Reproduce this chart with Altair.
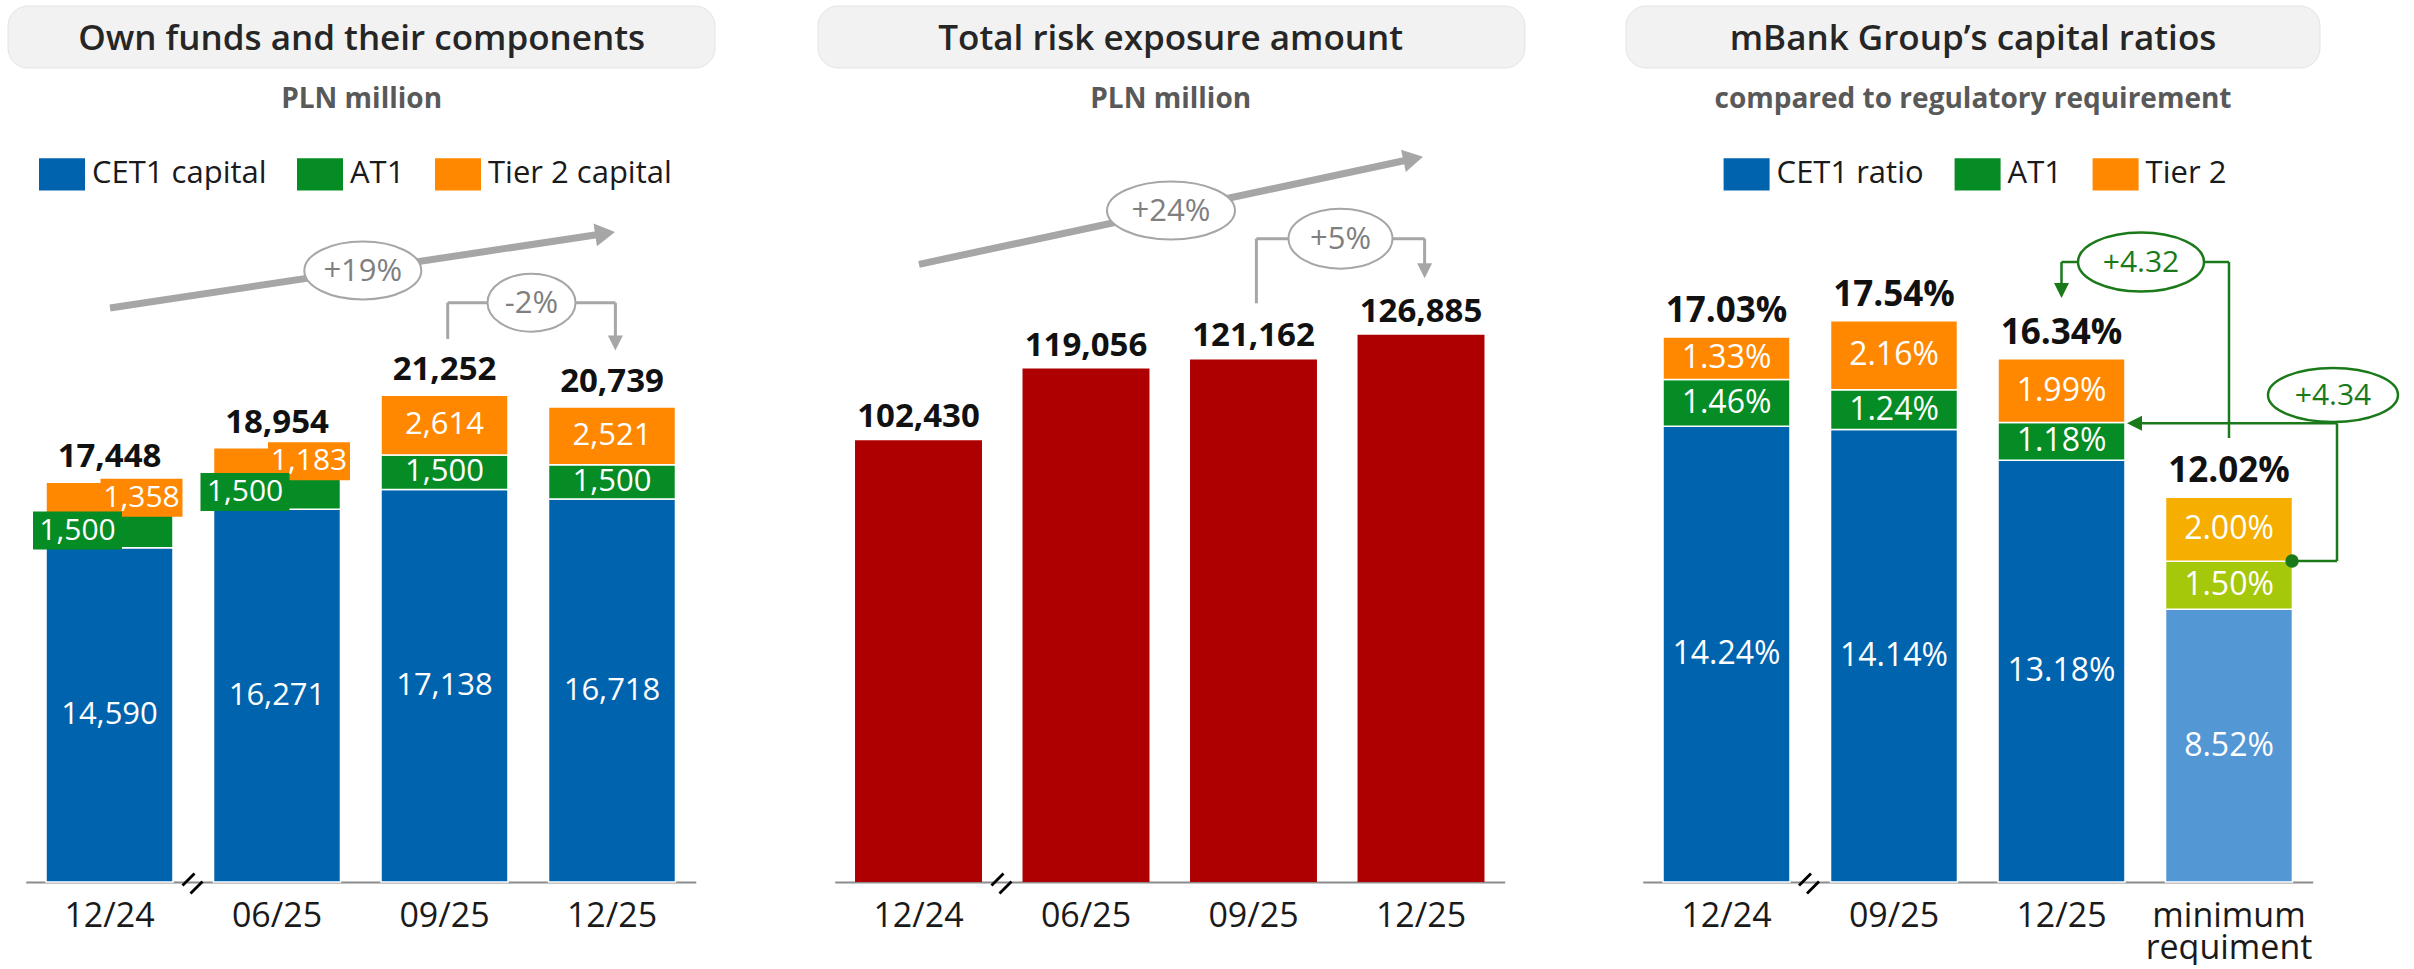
import math
import altair as alt
import pandas as pd

# ---------------- chart values ----------------
periods_funds = ["12/24", "06/25", "09/25", "12/25"]
cet1_capital = [14590, 16271, 17138, 16718]
at1_capital = [1500, 1500, 1500, 1500]
tier2_capital = [1358, 1183, 2614, 2521]
own_funds_total = [17448, 18954, 21252, 20739]

periods_trea = ["12/24", "06/25", "09/25", "12/25"]
trea_values = [102430, 119056, 121162, 126885]

periods_ratio = ["12/24", "09/25", "12/25", "minimum\nrequiment"]
cet1_ratio = [14.24, 14.14, 13.18, 8.52]
at1_ratio = [1.46, 1.24, 1.18, 1.50]
tier2_ratio = [1.33, 2.16, 1.99, 2.00]
total_ratio = [17.03, 17.54, 16.34, 12.02]

panel_titles = ["Own funds and their components", "Total risk exposure amount",
                "mBank Group\u2019s capital ratios"]
panel_subtitles = ["PLN million", "PLN million", "compared to regulatory requirement"]
funds_series = ["CET1 capital", "AT1", "Tier 2 capital"]
ratio_series = ["CET1 ratio", "AT1", "Tier 2"]
minimum_series = ["CET1 minimum", "AT1 minimum", "Tier 2 minimum"]
change_funds = ["+19%", "-2%"]
change_trea = ["+24%", "+5%"]
change_ratio = ["+4.32", "+4.34"]
callout_periods = ["12/24", "06/25"]

# ---------------- styles ----------------
FONT = "Open Sans"
BLUE, GREEN, ORANGE, RED = "#0063AE", "#058C24", "#FF8800", "#AE0000"
LBLUE, LIME, AMBER = "#5398D4", "#A6C80B", "#F6AF00"
GRAY, DGREEN, INK = "#A6A6A6", "#1A7A1A", "#1A1A1A"
PW, PH, GAP = 796, 882, 13
ONE = pd.DataFrame({"k": [0]})

AXIS = alt.Axis(title=None, labelAngle=0, ticks=False, tickSize=0, grid=False,
                domainColor="#8C8C8C", domainWidth=2, labelFontSize=34, labelFont=FONT,
                labelColor=INK, labelPadding=44, labelBaseline="alphabetic",
                labelLineHeight=32, labelLimit=400, labelOverlap=False,
                labelExpr="split(datum.label, '\\n')")


def xenc(periods, rng):
    return alt.X("period:N", sort=periods,
                 scale=alt.Scale(domain=periods, range=rng, paddingInner=0.242, paddingOuter=0.121),
                 axis=AXIS)


def yenc(field, ymax):
    return alt.Y(f"{field}:Q", scale=alt.Scale(domain=[0, ymax], nice=False, zero=True), axis=None)


def stacked(periods, parts, names, fmt):
    rows = []
    for i, p in enumerate(periods):
        base = 0.0
        for k, vals in enumerate(parts):
            v = vals[i]
            rows.append(dict(period=p, series=names[i][k], y0=base, y1=base + v,
                             mid=base + v / 2, label=fmt(v), order=k))
            base += v
    return pd.DataFrame(rows)


def header(i, x0, x1, cx):
    one = pd.DataFrame({"title": [panel_titles[i]], "sub": [panel_subtitles[i]]})
    box = alt.Chart(one).mark_rect(cornerRadius=20, fill="#F2F2F2", stroke="#E4E4E4",
                                   strokeWidth=1).encode(
        x=alt.value(x0), x2=alt.value(x1), y=alt.value(6), y2=alt.value(68))
    title = alt.Chart(one).mark_text(fontSize=35, fontWeight=600, color="#262626",
                                     baseline="alphabetic", font=FONT).encode(
        x=alt.value(cx), y=alt.value(50), text="title:N")
    sub = alt.Chart(one).mark_text(fontSize=28, fontWeight="bold", color="#595959",
                                   baseline="alphabetic", font=FONT).encode(
        x=alt.value(cx), y=alt.value(108), text="sub:N")
    return [box, title, sub]


def seg(x0, y0, x1, y1, color, w):
    return alt.Chart(ONE).mark_rule(color=color, strokeWidth=w).encode(
        x=alt.value(x0), y=alt.value(y0), x2=alt.value(x1), y2=alt.value(y1))


def head(x, y, path, size, color, angle=0):
    return alt.Chart(ONE).mark_point(shape=path, size=size, angle=angle, filled=True,
                                     fill=color, strokeWidth=0, opacity=1).encode(
        x=alt.value(x), y=alt.value(y))


HEAD_DOWN = "M -1 -1 L 1 -1 L 0 1 Z"
HEAD_LEFT = "M 1 -1 L 1 1 L -1 0 Z"
HEAD_RIGHT = "M -1 -1.15 L 1 0 L -1 1.15 Z"


def trend(x0, y0, x1, y1):
    dx, dy = x1 - x0, y1 - y0
    L = math.hypot(dx, dy)
    ux, uy = dx / L, dy / L
    h = 20
    hx, hy = x1 - ux * h / 2, y1 - uy * h / 2
    ang = math.degrees(math.atan2(dy, dx)) % 360
    return [seg(x0, y0, hx, hy, GRAY, 7), head(hx, hy, HEAD_RIGHT, h * h, GRAY, ang)]


def bubble(text, cx, cy, w, h, stroke, tcolor, sw, fs):
    r = h / w
    path = f"M -1 0 A 1 {r:.4f} 0 1 1 1 0 A 1 {r:.4f} 0 1 1 -1 0 Z"
    df = pd.DataFrame({"t": [text]})
    ell = alt.Chart(df).mark_point(shape=path, size=w * w, filled=True, fill="white",
                                   stroke=stroke, strokeWidth=sw, opacity=1,
                                   fillOpacity=1, strokeOpacity=1).encode(
        x=alt.value(cx), y=alt.value(cy))
    txt = alt.Chart(df).mark_text(fontSize=fs, color=tcolor, font=FONT, baseline="middle").encode(
        x=alt.value(cx), y=alt.value(cy + 1), text="t:N")
    return [ell, txt]


def down_bracket(xl, yl, xr, ytop, ytip, color, w):
    hs = 15
    return [seg(xl, yl, xl, ytop, color, w), seg(xl, ytop, xr, ytop, color, w),
            seg(xr, ytop, xr, ytip - hs + 1, color, w),
            head(xr, ytip - hs / 2, HEAD_DOWN, hs * hs, color)]


def break_mark(cx, cy):
    out = []
    for s in (-1, 1):
        mx, my = cx + s * 4.0, cy + s * 4.0
        out.append(alt.Chart(ONE).mark_rule(color="black", strokeWidth=2.8).encode(
            x=alt.value(mx - 6), y=alt.value(my + 6), x2=alt.value(mx + 6), y2=alt.value(my - 6)))
    return out


def legend(names, lx):
    return alt.Legend(orient="none", legendX=lx, legendY=151, direction="horizontal",
                      title=None, values=names,
                      symbolType="M -1 -0.7 L 1 -0.7 L 1 0.7 L -1 0.7 Z", symbolSize=2116,
                      symbolStrokeWidth=0, symbolOpacity=1, labelFontSize=31, labelFont=FONT,
                      labelColor=INK, labelOffset=7, columnPadding=30, labelLimit=400)


# ================= panel 1 : own funds =================
R1 = [25.75, 695.75]
Y1 = PH / 0.022908
xf = xenc(periods_funds, R1)
df_f = stacked(periods_funds, [cet1_capital, at1_capital, tier2_capital],
               [funds_series] * 4, lambda v: f"{v:,}")
is_call = df_f["period"].isin(callout_periods) & (df_f["order"] > 0)

bars_f = alt.Chart(df_f).mark_bar(stroke="white", strokeWidth=1.5).encode(
    x=xf, y=yenc("y1", Y1), y2="y0",
    color=alt.Color("series:N", scale=alt.Scale(domain=funds_series, range=[BLUE, GREEN, ORANGE]),
                    legend=legend(funds_series, 39)))
inner_f = alt.Chart(df_f[~is_call]).mark_text(color="white", fontSize=31, font=FONT).encode(
    x=xf, y=yenc("mid", Y1), text="label:N")
call_t2 = df_f[is_call & (df_f["order"] == 2)]
call_at1 = df_f[is_call & (df_f["order"] == 1)]
box_t2 = alt.Chart(call_t2).mark_bar(width=82, xOffset=32, yOffset=-19, y2Offset=19,
                                     color=ORANGE).encode(x=xf, y=yenc("mid", Y1), y2="mid")
txt_t2 = alt.Chart(call_t2).mark_text(color="white", fontSize=30, font=FONT, dx=32).encode(
    x=xf, y=yenc("mid", Y1), text="label:N")
box_at1 = alt.Chart(call_at1).mark_bar(width=89, xOffset=-32, yOffset=-19, y2Offset=19,
                                       color=GREEN).encode(x=xf, y=yenc("mid", Y1), y2="mid")
txt_at1 = alt.Chart(call_at1).mark_text(color="white", fontSize=30, font=FONT, dx=-32).encode(
    x=xf, y=yenc("mid", Y1), text="label:N")
df_tf = pd.DataFrame({"period": periods_funds, "total": own_funds_total,
                      "label": [f"{v:,}" for v in own_funds_total]})
tot_f = alt.Chart(df_tf).mark_text(fontSize=33, fontWeight="bold", baseline="alphabetic",
                                   dy=-15, color="#111111", font=FONT).encode(
    x=xf, y=yenc("total", Y1), text="label:N")

p1_layers = (header(0, 8, 715, 361.6)
             + trend(110, 308, 615, 232)
             + bubble(change_funds[0], 362.8, 270.5, 117, 58, GRAY, "#7F7F7F", 2, 31)
             + down_bracket(447.7, 339, 615.4, 302.7, 350.4, GRAY, 3)
             + bubble(change_funds[1], 531.5, 302.7, 88, 58, GRAY, "#7F7F7F", 2, 31)
             + [bars_f, inner_f, box_t2, txt_t2, box_at1, txt_at1, tot_f]
             + break_mark(192.5, 883.5))
p1 = alt.layer(*p1_layers).properties(width=PW, height=PH)

# ================= panel 2 : TREA =================
Y2 = PH / 0.004313
xt = xenc(periods_trea, R1)
df_t = pd.DataFrame({"period": periods_trea, "value": trea_values,
                     "label": [f"{v:,}" for v in trea_values]})
bars_t = alt.Chart(df_t).mark_bar(color=RED).encode(x=xt, y=yenc("value", Y2))
tot_t = alt.Chart(df_t).mark_text(fontSize=33, fontWeight="bold", baseline="alphabetic",
                                  dy=-13, color="#111111", font=FONT).encode(
    x=xt, y=yenc("value", Y2), text="label:N")
p2_layers = (header(1, 9, 716, 361.7)
             + trend(110, 264.3, 614, 156.7)
             + bubble(change_trea[0], 362, 210.5, 128, 58, GRAY, "#7F7F7F", 2, 31)
             + down_bracket(447.4, 303.3, 615.6, 238.7, 278.3, GRAY, 3)
             + bubble(change_trea[1], 531.5, 238.7, 104, 60, GRAY, "#7F7F7F", 2, 31)
             + [bars_t, tot_t]
             + break_mark(192.5, 883.5))
p2 = alt.layer(*p2_layers).properties(width=PW, height=PH)

# ================= panel 3 : capital ratios =================
R3 = [24.75, 694.75]
Y3 = PH / 32.0
xr = xenc(periods_ratio, R3)
names3 = [ratio_series] * 3 + [minimum_series]
df_r = stacked(periods_ratio, [cet1_ratio, at1_ratio, tier2_ratio], names3, lambda v: f"{v:.2f}%")
bars_r = alt.Chart(df_r).mark_bar(stroke="white", strokeWidth=1.5).encode(
    x=xr, y=yenc("y1", Y3), y2="y0",
    color=alt.Color("series:N",
                    scale=alt.Scale(domain=ratio_series + minimum_series,
                                    range=[BLUE, GREEN, ORANGE, LBLUE, LIME, AMBER]),
                    legend=legend(ratio_series, 105.6)))
inner_r = alt.Chart(df_r).mark_text(color="white", fontSize=32, font=FONT).encode(
    x=xr, y=yenc("mid", Y3), text="label:N")
df_tr = pd.DataFrame({"period": periods_ratio, "total": total_ratio,
                      "label": [f"{v:.2f}%" for v in total_ratio]})
tot_r = alt.Chart(df_tr).mark_text(fontSize=35, fontWeight="bold", baseline="alphabetic",
                                   dy=-15, color="#111111", font=FONT).encode(
    x=xr, y=yenc("total", Y3), text="label:N")

green_432 = [seg(443.5, 262, 611, 262, DGREEN, 2.5), seg(611, 262, 611, 438, DGREEN, 2.5),
             seg(443.5, 262, 443.5, 285, DGREEN, 2.5),
             head(443.5, 290.5, HEAD_DOWN, 225, DGREEN)]
green_434 = [seg(674, 561, 719, 561, DGREEN, 2.5), seg(719, 561, 719, 423.3, DGREEN, 2.5),
             seg(719, 423.3, 522, 423.3, DGREEN, 2.5),
             head(516.5, 423.3, HEAD_LEFT, 225, DGREEN),
             alt.Chart(ONE).mark_point(shape="circle", size=180, filled=True, color=DGREEN,
                                       opacity=1).encode(x=alt.value(674), y=alt.value(561))]

p3_layers = (header(2, 8, 702, 355)
             + [bars_r, inner_r, tot_r]
             + green_432 + bubble(change_ratio[0], 523, 262, 126, 59, DGREEN, DGREEN, 2.5, 30)
             + green_434 + bubble(change_ratio[1], 715, 395, 130, 54, DGREEN, DGREEN, 2.5, 30)
             + break_mark(191, 883.5))
p3 = alt.layer(*p3_layers).properties(width=PW, height=PH)

chart = (alt.hconcat(p1, p2, p3, spacing=GAP)
         .resolve_scale(x="independent", y="independent", color="independent")
         .resolve_legend(color="independent")
         .properties(padding=0, background="white")
         .configure(font=FONT)
         .configure_view(strokeWidth=0))

chart.save("out.html", embed_options={"renderer": "svg", "actions": False})
